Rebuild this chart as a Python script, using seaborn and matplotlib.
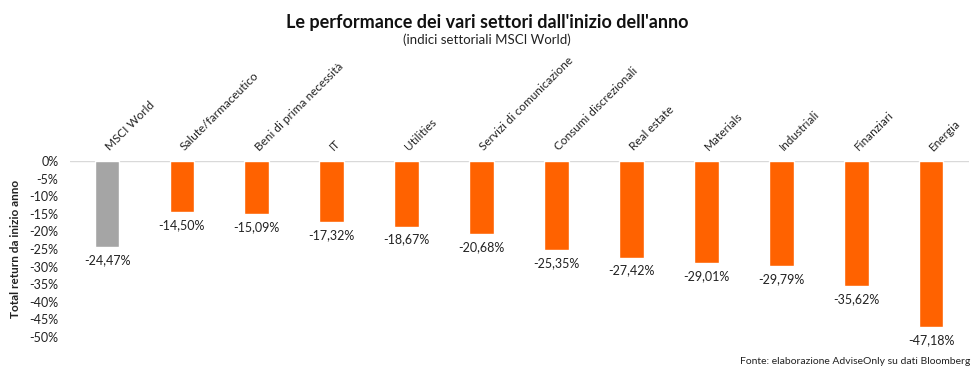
import matplotlib
matplotlib.use("Agg")
import matplotlib.pyplot as plt
import matplotlib.transforms as mtransforms
import seaborn as sns
import pandas as pd
from matplotlib.ticker import FuncFormatter

categories = ["MSCI World", "Salute/farmaceutico", "Beni di prima necessità", "IT",
              "Utilities", "Servizi di comunicazione", "Consumi discrezionali",
              "Real estate", "Materials", "Industriali", "Finanziari", "Energia"]
values = [-24.47, -14.50, -15.09, -17.32, -18.67, -20.68, -25.35, -27.42,
          -29.01, -29.79, -35.62, -47.18]
groups = ["index"] + ["sector"] * 11
palette = {"index": "#A5A5A5", "sector": "#FF6200"}

sns.set_theme(style="white")
plt.rcParams['font.family'] = ['Lato', 'DejaVu Sans']

df = pd.DataFrame({"cat": categories, "val": values, "grp": groups})

fig = plt.figure(figsize=(9.74, 3.7), dpi=100)
ax = fig.add_axes([0.0714, 0.0892, 0.9230, 0.4757])
sns.barplot(data=df, x="cat", y="val", hue="grp", palette=palette, dodge=False,
            width=0.33, legend=False, ax=ax, saturation=1)

ax.set_ylim(-50, 0)
ax.set_yticks(range(-50, 1, 5))
ax.yaxis.set_major_formatter(FuncFormatter(lambda v, p: f"{int(round(v))}%"))
ax.tick_params(axis="y", labelsize=9, colors="#222222", length=0, pad=8)
ax.xaxis.tick_top()
ax.tick_params(axis="x", length=0, pad=6, labelsize=8.5, colors="#222222")
ax.set_xticks(range(len(categories)))
ax.set_xticklabels(categories, rotation=45, ha="left", va="bottom", rotation_mode="anchor")
offset = mtransforms.ScaledTranslation(4 / 100, 0, fig.dpi_scale_trans)
for lbl in ax.get_xticklabels():
    lbl.set_transform(lbl.get_transform() + offset)
ax.set_xlim(-0.5, len(categories) - 0.5)
for s in ["left", "right", "bottom", "top"]:
    ax.spines[s].set_visible(False)
ax.axhline(0, color="#D9D9D9", lw=1, zorder=0)
ax.set_xlabel("")
ax.set_ylabel("Total return da inizio anno", fontsize=8.5, fontweight="bold", color="#222222", labelpad=6)

for i, v in enumerate(values):
    ax.annotate(f"{v:.2f}%".replace(".", ","), (i, v), xytext=(0, -5), textcoords="offset points",
                ha="center", va="top", fontsize=9, color="#222222")

fig.text(0.5, 0.94, "Le performance dei vari settori dall'inizio dell'anno", ha="center",
         va="center", fontsize=13, fontweight="bold", color="#111111")
fig.text(0.5, 0.893, "(indici settoriali MSCI World)", ha="center", va="center",
         fontsize=9.5, color="#222222")
fig.text(0.996, 0.022, "Fonte: elaborazione AdviseOnly su dati Bloomberg", ha="right",
         va="center", fontsize=7.5, color="#222222")

fig.savefig("out.png", dpi=100)
